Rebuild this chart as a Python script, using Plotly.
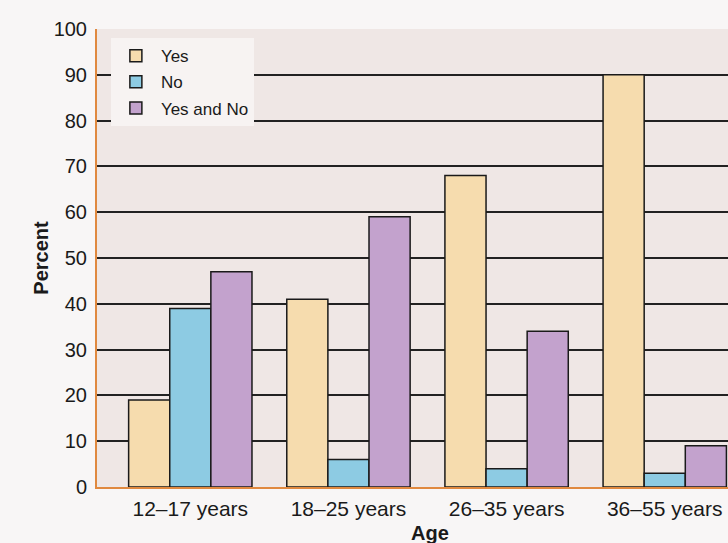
import plotly.graph_objects as go

# Survey responses by age group (percent)
age_groups = ["12–17 years", "18–25 years", "26–35 years", "36–55 years"]
yes_pct = [19, 41, 68, 90]
no_pct = [39, 6, 4, 3]
yes_and_no_pct = [47, 59, 34, 9]

series_names = ["Yes", "No", "Yes and No"]
series_colors = ["#f6dcae", "#8dcbe3", "#c3a2cd"]

fig = go.Figure()
for name, vals, col in zip(series_names,
                           [yes_pct, no_pct, yes_and_no_pct],
                           series_colors):
    fig.add_trace(go.Bar(
        x=age_groups, y=vals, name=name, legendgroup=name,
        marker=dict(color=col, line=dict(color="#1a1a1a", width=1.5)),
    ))

fig.update_layout(
    width=728, height=543,
    margin=dict(l=97, r=0, t=29, b=56),
    paper_bgcolor="#f8f6f6",
    plot_bgcolor="#efe7e5",
    barmode="group", bargap=0.22, bargroupgap=0,
    font=dict(family="Liberation Sans, Arial, sans-serif", size=20, color="#1a1a1a"),
    showlegend=True,
    legend=dict(
        x=0.022, y=0.98, xanchor="left", yanchor="top",
        bgcolor="#f7f3f2", borderwidth=0,
        font=dict(size=17, color="#1a1a1a"),
        tracegroupgap=1, itemwidth=40,
    ),
    xaxis=dict(
        range=[-0.59, 3.40],
        showline=True, linecolor="#e0893f", linewidth=2,
        showgrid=False, ticks="", ticklabelstandoff=2,
        tickfont=dict(size=21),
    ),
    yaxis=dict(
        range=[0, 100], dtick=10, tick0=0,
        showline=True, linecolor="#e0893f", linewidth=2,
        showgrid=True, gridcolor="#222222", gridwidth=1.5,
        zeroline=False, ticks="", ticklabelstandoff=4,
        tickfont=dict(size=20),
        title=dict(text="<b>Percent</b>", font=dict(size=20), standoff=0),
    ),
)
# "Age" axis title placed below the tick labels
fig.update_layout(annotations=[dict(
    text="<b>Age</b>", x=(430 - 97) / 631, xref="paper", xanchor="center",
    y=-0.1, yref="paper", yanchor="middle",
    showarrow=False, font=dict(size=20),
)])

fig.write_html("out.html")
